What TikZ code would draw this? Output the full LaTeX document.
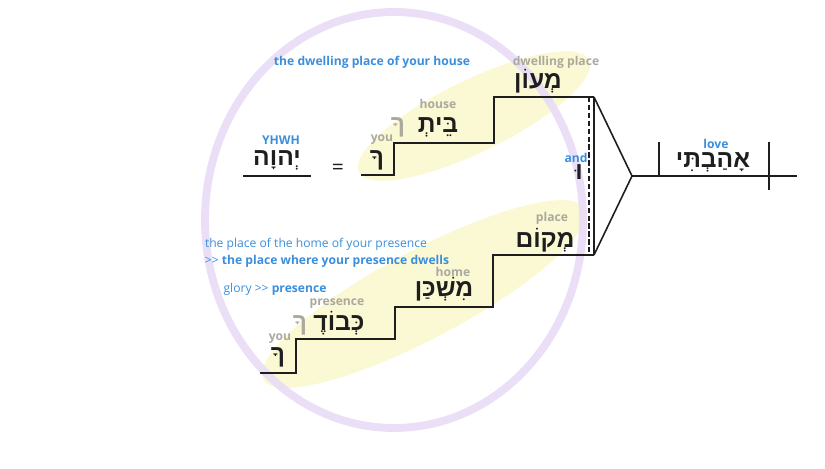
\documentclass[tikz,border=0pt]{standalone}
\usepackage{fontspec}
\usepackage{tikz}
\setmainfont{Open Sans}
\newfontfamily\hebfont[Script=Hebrew]{Liberation Sans}
\TeXXeTstate=1
\definecolor{glossblue}{HTML}{3A8EDC}
\definecolor{labgray}{HTML}{AAA99E}
\definecolor{hebblack}{HTML}{1E1E1E}
\definecolor{ringcol}{HTML}{E8DCF6}
\definecolor{hilite}{HTML}{FBF8D4}

\begin{document}
\begin{tikzpicture}[x=0.02cm,y=-0.02cm]
	\tikzstyle{gloss}=[inner sep=0pt,text=glossblue,font=\fontsize{6.9}{8}\selectfont]
	\tikzstyle{glossb}=[gloss,font=\bfseries\fontsize{6.9}{8}\selectfont]
	\tikzstyle{lbl}=[inner sep=0pt,text=labgray,font=\bfseries\fontsize{6.9}{8}\selectfont]
	\tikzstyle{heb}=[inner sep=0pt,text=hebblack,font=\hebfont\bfseries\fontsize{14}{16}\selectfont]
	\tikzstyle{faint}=[heb,text=labgray]
	\tikzstyle{stair}=[line width=0.9pt,hebblack]
	\useasboundingbox (0,0) rectangle (825,469);
	\fill[hilite,rotate around={26:(474,116)}] (474,116) ellipse [x radius=128, y radius=36];
	\fill[hilite,rotate around={28:(424,294)}] (424,294) ellipse [x radius=182, y radius=44];
	\draw[ringcol,line width=4.5pt,opacity=0.9] (394,220) ellipse [x radius=189, y radius=208];
	\coordinate (u0) at (361,175);
	\coordinate (u1) at (394,175);
	\coordinate (u2) at (494,143);
	\coordinate (u3) at (594,97);
	\coordinate (l0) at (260,373);
	\coordinate (l1) at (296,373);
	\coordinate (l2) at (395,339);
	\coordinate (l3) at (493,307);
	\coordinate (l4) at (594,255);
	\coordinate (d1) at (589,97);
	\coordinate (d2) at (589,255);
	\coordinate (apex) at (632,176);
	\coordinate (tail) at (797,176);
	\coordinate (t1) at (659,142);
	\coordinate (t2) at (659,176);
	\coordinate (t3) at (769,142);
	\coordinate (t4) at (769,190);
	\coordinate (y0) at (243,176);
	\coordinate (y1) at (311,176);
	\draw[stair] (u0) -- (u1) |- (u2) |- (u3);
	\draw[stair] (l0) -- (l1) |- (l2) |- (l3) |- (l4);
	\draw[stair] (u3) -- (l4);
	\draw[stair,line width=0.7pt,dash pattern=on 3pt off 1.5pt] (d1) -- (d2);
	\draw[stair] (u3) -- (apex) -- (l4);
	\draw[stair] (apex) -- (tail);
	\draw[stair] (t1) -- (t2);
	\draw[stair] (t3) -- (t4);
	\draw[stair] (y0) -- (y1);
	\node[glossb](g1) at (372,62) {the dwelling place of your house};
	\node[lbl](w1) at (556,62) {dwelling place};
	\node[heb](h1) at (538,81) {\beginR מְעוֹן\endR};
	\node[lbl](w2) at (438,104) {house};
	\node[heb](h2) at (438,127) {\beginR בֵּיתְ\endR};
	\node[faint](h3) at (398,127) {\beginR ךָ\endR};
	\node[lbl](w3) at (382,140) {you};
	\node[heb](h4) at (377,160) {\beginR ךָ\endR};
	\node[glossb](g2) at (281,140) {YHWH};
	\node[heb](h5) at (277,160) {\beginR יְהוָה\endR};
	\node[inner sep=0pt,text=hebblack,font=\fontsize{12}{14}\selectfont](eq) at (338,169) {=};
	\node[glossb](g3) at (576,158) {and};
	\node[heb](h6) at (579,172) {\beginR וּ\endR};
	\node[glossb](g4) at (716,144) {love};
	\node[heb](h7) at (713,162) {\beginR אָהַבְתִּי\endR};
	\node[lbl](w4) at (552,218) {place};
	\node[heb](h8) at (545,240) {\beginR מְקוֹם\endR};
	\node[gloss](g5) at (316,244) {the place of the home of your presence};
	\node[gloss](g6) at (327,261) {>\kern0pt> \textbf{the place where your presence dwells}};
	\node[lbl](w5) at (453,272) {home};
	\node[heb](h9) at (444,289) {\beginR מִשְׁכַּן\endR};
	\node[gloss](g7) at (275,289) {glory >\kern0pt> \textbf{presence}};
	\node[lbl](w6) at (337,304) {presence};
	\node[faint](h10) at (300,325) {\beginR ךָ\endR};
	\node[heb](h11) at (339,323) {\beginR כְּבוֹדֶ\endR};
	\node[lbl](w7) at (280,339) {you};
	\node[heb](h12) at (278,357) {\beginR ךָ\endR};
\end{tikzpicture}
\end{document}
